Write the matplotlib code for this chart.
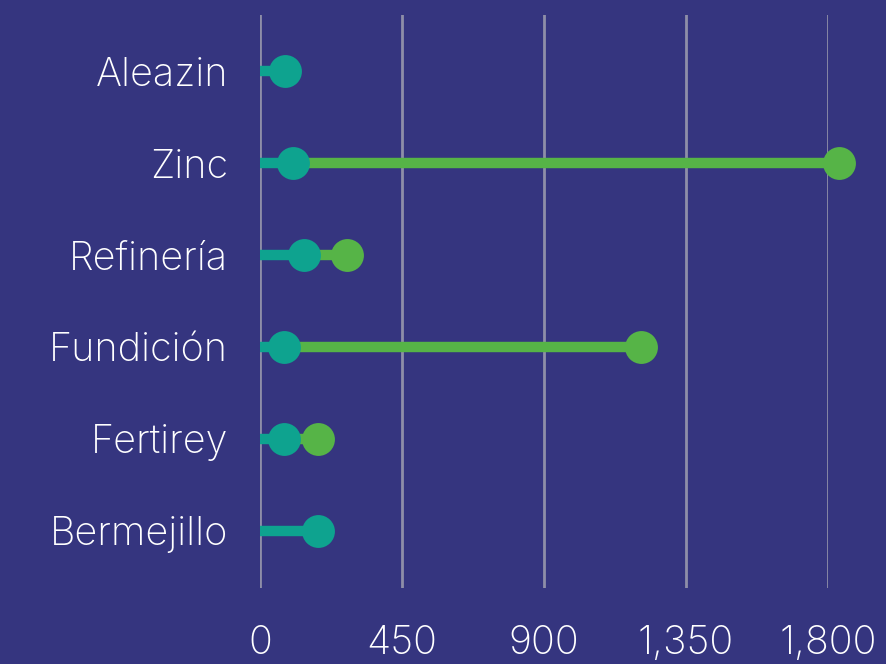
import matplotlib.pyplot as plt

plt.rcParams['font.family'] = ['Inter', 'DejaVu Sans']

plants = ["Bermejillo", "Fertirey", "Fundición", "Refinería", "Zinc", "Aleazin"]
start_vals = [184, 76, 76, 139, 105, 79]
end_vals = [184, 184, 1207, 276, 1835, 79]
xticks = [0, 450, 900, 1350, 1800]
xtick_labels = ["0", "450", "900", "1,350", "1,800"]

bg = "#35357f"
teal = "#0ea38f"
green = "#56b447"


def main():
    fig = plt.figure(figsize=(8.87, 6.64), dpi=100)
    fig.patch.set_facecolor(bg)
    ax = fig.add_axes([0.2931, 0.1145, 0.6404, 0.863])
    ax.set_facecolor(bg)

    ys = range(len(plants))
    for y, s, e in zip(ys, start_vals, end_vals):
        ax.plot([0, s], [y, y], color=teal, lw=7.5, solid_capstyle="butt", zorder=2, clip_on=False)
        if e > s:
            ax.plot([s, e], [y, y], color=green, lw=7.5, solid_capstyle="butt", zorder=2, clip_on=False)
            ax.scatter([e], [y], s=560, color=green, zorder=3, clip_on=False, linewidths=0)
        ax.scatter([s], [y], s=560, color=teal, zorder=4, clip_on=False, linewidths=0)

    ax.set_xlim(0, 1800)
    ax.set_ylim(-0.62, 5.61)
    ax.set_xticks(xticks)
    ax.set_xticklabels(xtick_labels)
    ax.set_yticks(list(ys))
    ax.set_yticklabels(plants)
    ax.grid(axis="x", color="#8e8ea8", lw=2, zorder=1)
    ax.set_axisbelow(True)
    for sp in ax.spines.values():
        sp.set_visible(False)
    ax.tick_params(axis="x", length=0, pad=27, labelsize=28.5, labelcolor="white")
    ax.tick_params(axis="y", length=0, pad=23, labelsize=28.5, labelcolor="white")
    for lab in ax.get_xticklabels() + ax.get_yticklabels():
        lab.set_fontweight("light")

    fig.savefig("out.png", dpi=100, facecolor=bg)


if __name__ == "__main__":
    main()
